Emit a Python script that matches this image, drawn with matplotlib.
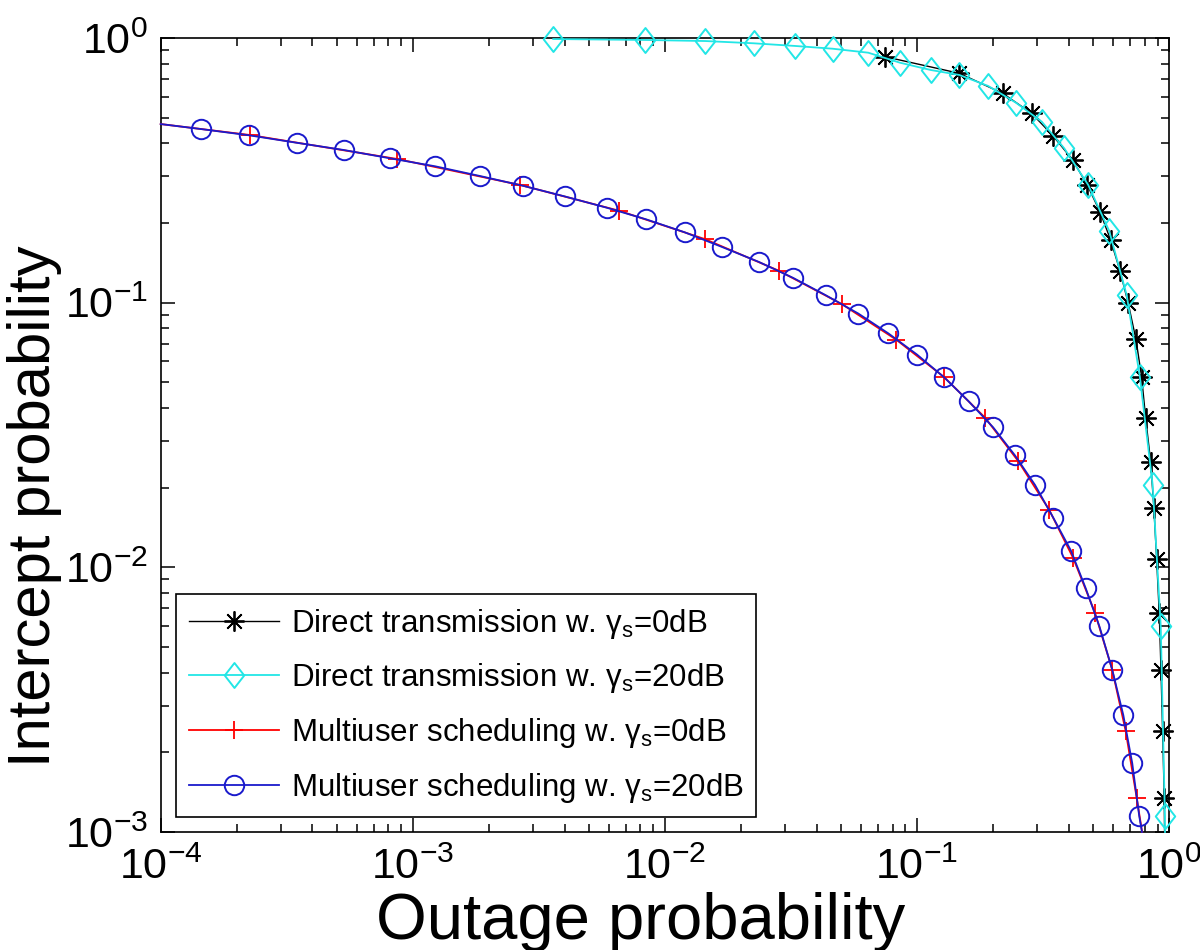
import matplotlib
matplotlib.use("Agg")
import matplotlib.pyplot as plt
from matplotlib.path import Path
import numpy as np

plt.rcParams['font.family'] = ['Liberation Sans', 'DejaVu Sans']
plt.rcParams['mathtext.fontset'] = 'custom'
plt.rcParams['mathtext.rm'] = 'Liberation Sans'
plt.rcParams['mathtext.it'] = 'Liberation Sans:italic'
plt.rcParams['mathtext.bf'] = 'Liberation Sans:bold'

# ---------------- data ----------------
labels = [
    'Direct transmission w. γ$_{\\mathregular{s}}$=0dB',
    'Direct transmission w. γ$_{\\mathregular{s}}$=20dB',
    'Multiuser scheduling w. γ$_{\\mathregular{s}}$=0dB',
    'Multiuser scheduling w. γ$_{\\mathregular{s}}$=20dB',
]

# Direct transmission, gamma_s = 0 dB (asterisks); last point = curve end at axis
direct0_x = [0.0746, 0.1472, 0.2188, 0.2851, 0.3473, 0.4146, 0.4737, 0.532,
             0.5866, 0.6387, 0.6888, 0.7393, 0.7785, 0.8078, 0.8452, 0.871,
             0.893, 0.9143, 0.929, 0.943, 0.9572, 0.960]
direct0_y = [0.850, 0.7355, 0.618, 0.5193, 0.4263, 0.346, 0.2785, 0.2207,
             0.1725, 0.1321, 0.0995, 0.0726, 0.0524, 0.0366, 0.0251, 0.01672,
             0.01073, 0.00674, 0.0041, 0.00241, 0.00135, 0.001]

# Direct transmission, gamma_s = 20 dB (diamonds); last point = curve end at axis
direct20_x = [3.608e-3, 8.36e-3, 1.446e-2, 2.25e-2, 3.292e-2, 4.63e-2, 6.41e-2,
              8.56e-2, 0.1134, 0.1472, 0.1918, 0.247, 0.3125, 0.3839, 0.478,
              0.579, 0.679, 0.766, 0.861, 0.927, 0.963, 0.964]
direct20_y = [0.991, 0.983, 0.974, 0.955, 0.933, 0.911, 0.880, 0.8067, 0.757,
              0.725, 0.6587, 0.5695, 0.483, 0.3831, 0.2785, 0.1866, 0.1069,
              0.0525, 0.0205, 0.006, 0.00115, 0.001]

# Multiuser scheduling, gamma_s = 0 dB (plus); first/last points = curve ends at axes
multi0_x = [1.0e-4, 2.26e-4, 8.68e-4, 2.662e-3, 6.577e-3, 1.438e-2, 2.828e-2,
            5.04e-2, 8.27e-2, 0.1283, 0.1867, 0.2522, 0.3348, 0.417, 0.5083,
            0.5953, 0.6729, 0.7438, 0.782]
multi0_y = [0.473, 0.430, 0.349, 0.2785, 0.2226, 0.174, 0.1321, 0.0987, 0.0725,
            0.0523, 0.0367, 0.0252, 0.01648, 0.01082, 0.00674, 0.0041, 0.00241,
            0.00135, 0.001]

# Multiuser scheduling, gamma_s = 20 dB (circles); first/last points = curve ends at axes
multi20_x = [1.0e-4, 1.442e-4, 2.239e-4, 3.46e-4, 5.32e-4, 8.14e-4, 1.228e-3,
             1.848e-3, 2.729e-3, 4.016e-3, 5.88e-3, 8.41e-3, 1.198e-2, 1.684e-2,
             2.362e-2, 3.231e-2, 4.355e-2, 5.85e-2, 7.71e-2, 0.1, 0.128, 0.1603,
             0.2006, 0.2447, 0.2938, 0.3473, 0.4083, 0.467, 0.5296, 0.5953,
             0.6583, 0.7145, 0.7615, 0.781]
multi20_y = [0.473, 0.453, 0.429, 0.402, 0.3775, 0.351, 0.3275, 0.301, 0.2767,
             0.2519, 0.2285, 0.2066, 0.1845, 0.1624, 0.1425, 0.124, 0.1066,
             0.091, 0.0765, 0.0637, 0.0523, 0.0424, 0.0338, 0.0265, 0.0205,
             0.0154, 0.01156, 0.00834, 0.00598, 0.0041, 0.00277, 0.00182,
             0.00115, 0.001]

# ---------------- figure ----------------
fig = plt.figure(figsize=(12, 9.5), dpi=100)
ax = fig.add_axes([0.1339, 0.1242, 0.9742 - 0.1339, 0.96 - 0.1242])

diamond = Path([(0, 1), (0.78, 0), (0, -1), (-0.78, 0), (0, 1)],
               [Path.MOVETO, Path.LINETO, Path.LINETO, Path.LINETO, Path.CLOSEPOLY])

lw = 1.3
ax.plot(direct0_x, direct0_y, color='black', lw=1.0, marker=(8, 2, 0),
        markersize=14.5, markeredgewidth=1.3, markevery=slice(0, len(direct0_x) - 1),
        label=labels[0], clip_on=False, zorder=3)
ax.plot(direct20_x, direct20_y, color='#22e6e6', lw=lw, marker=diamond,
        markersize=18, markeredgewidth=1.4, markerfacecolor='none',
        markevery=slice(0, len(direct20_x) - 1),
        label=labels[1], clip_on=False, zorder=4)
ax.plot(multi0_x, multi0_y, color='red', lw=lw, marker='+',
        markersize=13.5, markeredgewidth=1.3, markevery=slice(1, len(multi0_x) - 1),
        label=labels[2], clip_on=False, zorder=3)
ax.plot(multi20_x, multi20_y, color='#1a1acc', lw=lw, marker='o',
        markersize=14, markeredgewidth=1.4, markerfacecolor='none',
        markevery=slice(1, len(multi20_x) - 1),
        label=labels[3], clip_on=False, zorder=4)

ax.set_xscale('log')
ax.set_yscale('log')
ax.set_xlim(1e-4, 1)
ax.set_ylim(1e-3, 1)

for s in ax.spines.values():
    s.set_linewidth(1.2)
ax.tick_params(which='both', direction='in', top=True, right=True, width=1.1)
ax.tick_params(which='major', length=10, labelsize=31)
ax.tick_params(axis='x', which='major', pad=11)
ax.tick_params(axis='y', which='major', pad=9)
ax.tick_params(which='minor', length=5.5)
ax.set_xlabel('Outage probability', fontsize=47)
ax.set_ylabel('Intercept probability', fontsize=43)
ax.xaxis.set_label_coords(0.476, -0.075)
ax.yaxis.set_label_coords(-0.098, 0.41)

leg = ax.legend(loc='lower left', bbox_to_anchor=(0.0152, 0.0189),
                borderaxespad=0, fontsize=22.5, fancybox=False, framealpha=1,
                edgecolor='black', handlelength=2.9, labelspacing=0.66,
                handletextpad=0.38, borderpad=0.4)
leg.get_frame().set_linewidth(1.2)

fig.savefig('out.png', dpi=100)
